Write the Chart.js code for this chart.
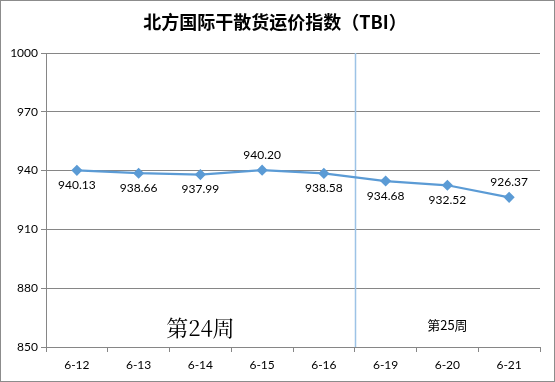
<!DOCTYPE html>
<html>
<head>
<meta charset="utf-8">
<script src="https://cdn.jsdelivr.net/npm/chart.js@4"></script>
<style>
  body { margin: 0; background: #fff; }
  #wrap { width: 555px; height: 382px; position: relative; }
</style>
</head>
<body>
<div id="wrap"><canvas id="myChart" width="555" height="382"></canvas></div>
<script>
// Data
const dates = ['6-12', '6-13', '6-14', '6-15', '6-16', '6-19', '6-20', '6-21'];
const tbiValues = [940.13, 938.66, 937.99, 940.20, 938.58, 934.68, 932.52, 926.37];
const labelAbove = [false, false, false, true, false, false, false, true];
const yTicks = [850, 880, 910, 940, 970, 1000];
const weekLabels = ['第24周', '第25周'];

// Title, frame, week divider and value labels
const decorPlugin = {
    id: 'decor',
    beforeDatasetsDraw(chart) {
        const ctx = chart.ctx;
        const x = chart.scales.x;
        const area = chart.chartArea;
        const sepX = Math.round(x.getPixelForValue(4.5)) + 0.5;
        ctx.save();
        ctx.strokeStyle = '#9dc3e6';
        ctx.lineWidth = 1.5;
        ctx.beginPath();
        ctx.moveTo(sepX, area.top);
        ctx.lineTo(sepX, area.bottom);
        ctx.stroke();
        ctx.restore();
    },
    afterDraw(chart) {
        const ctx = chart.ctx;
        const x = chart.scales.x;
        const y = chart.scales.y;
        ctx.save();
        // frame
        ctx.strokeStyle = '#8c8c8c';
        ctx.lineWidth = 1;
        ctx.strokeRect(0.5, 0.5, chart.width - 1, chart.height - 1);
        // title
        ctx.fillStyle = '#000';
        ctx.textAlign = 'center';
        ctx.textBaseline = 'middle';
        ctx.font = 'bold 18px "Noto Sans CJK SC", sans-serif';
        ctx.fillText('北方国际干散货运价指数（TBI）', 275, 22);
        // value labels
        ctx.font = '12px Lato, "Open Sans", sans-serif';
        tbiValues.forEach((v, i) => {
            const px = x.getPixelForValue(i);
            const py = y.getPixelForValue(v);
            ctx.fillText(v.toFixed(2), px, labelAbove[i] ? py - 15 : py + 15);
        });
        // week labels
        ctx.font = '22px "Noto Serif CJK SC", "DejaVu Serif", serif';
        ctx.fillText(weekLabels[0], x.getPixelForValue(2), 328);
        ctx.font = '13px "Noto Sans CJK SC", sans-serif';
        ctx.fillText(weekLabels[1], x.getPixelForValue(6), 325);
        ctx.restore();
    }
};

const ctx = document.getElementById('myChart').getContext('2d');
const myChart = new Chart(ctx, {
    type: 'line',
    data: {
        labels: dates,
        datasets: [{
            label: 'TBI',
            data: tbiValues,
            borderColor: '#5b9bd5',
            backgroundColor: '#5b9bd5',
            borderWidth: 2.25,
            pointStyle: 'rectRot',
            pointRadius: 4,
            pointHoverRadius: 4,
            tension: 0
        }]
    },
    options: {
        responsive: false,
        animation: false,
        events: [],
        layout: { padding: { left: 0, right: 15, top: 53, bottom: 0 } },
        plugins: {
            legend: { display: false },
            tooltip: { enabled: false },
            title: { display: false }
        },
        scales: {
            x: {
                offset: true,
                grid: {
                    offset: true,
                    drawOnChartArea: false,
                    drawTicks: true,
                    tickLength: 5,
                    color: '#868686'
                },
                border: { display: true, color: '#868686' },
                ticks: {
                    color: '#000',
                    font: { family: 'Lato, "Open Sans", sans-serif', size: 12 },
                    padding: 6,
                    maxRotation: 0
                },
                afterFit(scale) { scale.height = 35; }
            },
            y: {
                min: 850,
                max: 1000,
                afterBuildTicks(scale) {
                    scale.ticks = yTicks.map(v => ({ value: v }));
                },
                grid: {
                    color: '#868686',
                    drawTicks: true,
                    tickLength: 5
                },
                border: { display: true, color: '#868686' },
                ticks: {
                    color: '#000',
                    font: { family: 'Lato, "Open Sans", sans-serif', size: 12 },
                    padding: 3,
                    callback: v => String(v)
                },
                afterFit(scale) { scale.width = 46; }
            }
        }
    },
    plugins: [decorPlugin]
});
</script>
</body>
</html>
